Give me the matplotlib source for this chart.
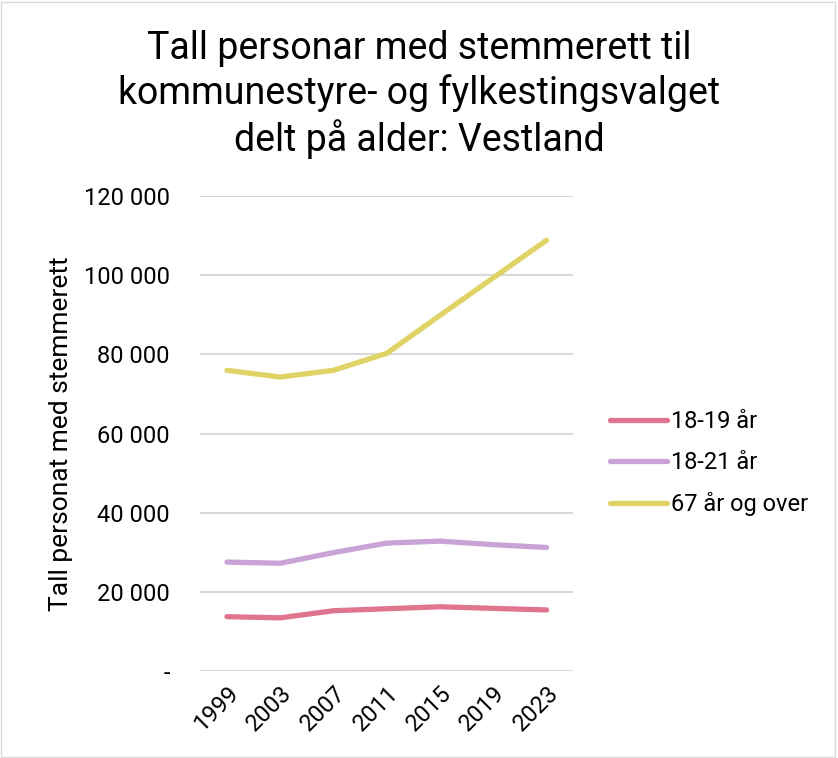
import matplotlib
matplotlib.use("Agg")
import matplotlib.pyplot as plt
from matplotlib.patches import Rectangle

plt.rcParams['font.family'] = ['Roboto', 'DejaVu Sans']

years = ['1999', '2003', '2007', '2011', '2015', '2019', '2023']
age_18_19 = [13700, 13400, 15200, 15700, 16200, 15800, 15400]
age_18_21 = [27500, 27200, 29900, 32300, 32800, 31900, 31200]
age_67_over = [76000, 74300, 76000, 80300, 89900, 99400, 108900]

series = [
    ('18-19 år', age_18_19, '#E0758F'),
    ('18-21 år', age_18_21, '#C9A3D6'),
    ('67 år og over', age_67_over, '#E0D366'),
]

fig = plt.figure(figsize=(8.38, 7.58), dpi=100)
ax = fig.add_axes([0.239, 0.115, 0.445, 0.626])

x = range(len(years))
for name, vals, col in series:
    ax.plot(x, vals, color=col, lw=3.8, label=name,
            solid_capstyle='round', solid_joinstyle='round')

ax.set_xlim(-0.5, len(years) - 0.5)
ax.set_ylim(0, 120000)
ax.set_yticks(range(0, 120001, 20000))
ax.set_yticklabels(['-' if v == 0 else f'{v:,}'.replace(',', ' ') for v in range(0, 120001, 20000)],
                   fontsize=17)
ax.set_xticks(list(x))
ax.set_xticklabels(years, rotation=45, ha='right', va='top', rotation_mode='anchor', fontsize=17)
ax.tick_params(length=0, pad=8)
ax.tick_params(axis='y', pad=22)
ax.grid(axis='y', color='#D9D9D9', lw=1.5)
ax.set_axisbelow(True)
for s in ax.spines.values():
    s.set_visible(False)

ax.set_ylabel('Tall personat med stemmerett', fontsize=19, labelpad=8)

fig.suptitle('Tall personar med stemmerett til\nkommunestyre- og fylkestingsvalget\ndelt på alder: Vestland',
             fontsize=27, y=0.96, linespacing=1.22)

fig.legend(loc='center left', bbox_to_anchor=(0.728, 0.389), frameon=False, fontsize=17,
           handlelength=2.4, labelspacing=0.75, handletextpad=0.2, borderpad=0, borderaxespad=0)

fig.patches.append(Rectangle((0.001, 0.001), 0.996, 0.997, transform=fig.transFigure,
                             fill=False, edgecolor='#D9D9D9', lw=1))

fig.savefig('out.png', dpi=100)
